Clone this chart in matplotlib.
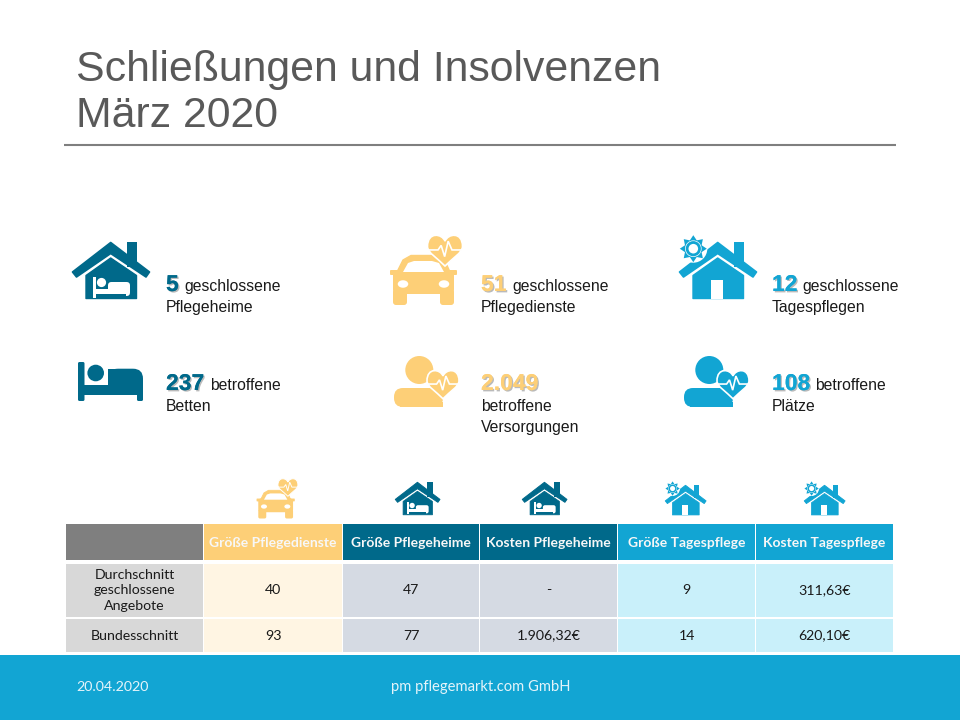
import numpy as np
import matplotlib
matplotlib.use('Agg')
import matplotlib.pyplot as plt
import matplotlib.patheffects as pe
from matplotlib.patches import Rectangle, Polygon, Circle, Ellipse, FancyBboxPatch, PathPatch
from matplotlib.path import Path
from matplotlib.transforms import Affine2D

YELLOW = '#FDCF77'
DARK = '#00698A'
BLUE = '#12A5D3'

title_lines = ['Schließungen und Insolvenzen', 'März 2020']
footer_date = '20.04.2020'
footer_name = 'pm pflegemarkt.com GmbH'

# big number, rest of first line, following lines
heim_stats = [('5', 'geschlossene', ['Pflegeheime']), ('237', 'betroffene', ['Betten'])]
dienst_stats = [('51', 'geschlossene', ['Pflegedienste']), ('2.049', '', ['betroffene', 'Versorgungen'])]
tages_stats = [('12', 'geschlossene', ['Tagespflegen']), ('108', 'betroffene', ['Plätze'])]

table_columns = ['Größe Pflegedienste', 'Größe Pflegeheime', 'Kosten Pflegeheime',
                 'Größe Tagespflege', 'Kosten Tagespflege']
row_labels = ['Durchschnitt\ngeschlossene\nAngebote', 'Bundesschnitt']
row_durchschnitt = ['40', '47', '-', '9', '311,63€']
row_bundesschnitt = ['93', '77', '1.906,32€', '14', '620,10€']


def local(ax, x0, y0, s):
    return Affine2D().scale(s).translate(x0, y0) + ax.transData


def draw_heart(ax, cx, cy, w, color, s=1.0):
    verts = [(0, -0.28), (-0.08, -0.5), (-0.5, -0.56), (-0.5, -0.13),
             (-0.5, 0.05), (-0.2, 0.22), (0, 0.43),
             (0.2, 0.22), (0.5, 0.05), (0.5, -0.13),
             (0.5, -0.56), (0.08, -0.5), (0, -0.28)]
    codes = [Path.MOVETO] + [Path.CURVE4] * 12
    tr = Affine2D().scale(w).translate(cx, cy) + ax.transData
    ax.add_patch(PathPatch(Path(verts, codes), fc=color, ec='white', lw=1.2 * s, transform=tr, zorder=4))
    pulse = [(-0.5, -0.03), (-0.2, -0.03), (-0.11, -0.16), (-0.01, 0.16), (0.09, -0.28), (0.2, -0.03), (0.5, -0.03)]
    ax.plot([cx + p[0] * w for p in pulse], [cy + p[1] * w for p in pulse],
            color='white', lw=1.2 * s, zorder=5, solid_joinstyle='miter')


def draw_roof(ax, tr, color, s):
    # roof band plus chimney, local size 78 x 57
    ax.add_patch(Rectangle((55, 0), 10, 25, fc=color, ec='none', transform=tr))
    ax.add_patch(Polygon([(0.5, 30), (38.7, 0.5), (77.5, 30), (74, 35), (38.7, 11.5), (4.5, 35)],
                         fc=color, ec=color, lw=1.2 * s, joinstyle='round', transform=tr))


def house_body(ax, tr, color, s):
    ax.add_patch(Polygon([(14, 33.5), (38.7, 16), (64.5, 33.5), (64.5, 56.5), (14, 56.5)],
                         fc=color, ec=color, lw=1.0 * s, joinstyle='round', transform=tr))


def draw_heim(ax, x0, y0, s):
    tr = local(ax, x0, y0, s)
    draw_roof(ax, tr, DARK, s)
    house_body(ax, tr, DARK, s)
    # bed cut out of the house
    ax.add_patch(Rectangle((20.7, 35), 3.4, 20.5, fc='white', ec='none', transform=tr))
    ax.add_patch(Circle((29.5, 40.5), 4.6, fc='white', ec='none', transform=tr))
    ax.add_patch(FancyBboxPatch((36, 40), 22, 14, boxstyle='round,pad=0,rounding_size=3.5', fc='white', ec='none', transform=tr))
    ax.add_patch(Rectangle((24, 47), 16, 5, fc='white', ec='none', transform=tr))
    ax.add_patch(Rectangle((24, 52), 30, 4, fc=DARK, ec='none', transform=tr))


def draw_tages(ax, x0, y0, s):
    tr = local(ax, x0, y0, s)
    draw_roof(ax, tr, BLUE, s)
    house_body(ax, tr, BLUE, s)
    ax.add_patch(Rectangle((32, 38), 11.5, 19, fc='white', ec='none', transform=tr))
    # sun in the corner of the roof
    cx, cy = 14.3, 6.7
    ax.add_patch(Circle((cx, cy), 14, fc='white', ec='none', transform=tr, zorder=3))
    ang = np.linspace(0, 2 * np.pi, 17)[:-1] - np.pi / 2
    rad = np.where(np.arange(16) % 2 == 0, 13.5, 9)
    ax.add_patch(Polygon(np.column_stack([cx + rad * np.cos(ang), cy + rad * np.sin(ang)]),
                         fc=BLUE, ec='none', transform=tr, zorder=4))
    ax.add_patch(Circle((cx, cy), 8.3, fc='white', ec='none', transform=tr, zorder=4))
    ax.add_patch(Circle((cx, cy), 6.2, fc='white', ec=BLUE, lw=2.0 * s, transform=tr, zorder=5))


def draw_car(ax, x0, y0, s):
    tr = local(ax, x0, y0, s)
    c = YELLOW
    ax.add_patch(Polygon([(8, 17), (14, 5), (22, 0.5), (46, 0.5), (56, 6), (61, 17)],
                         fc=c, ec=c, lw=1.0 * s, joinstyle='round', transform=tr))
    ax.add_patch(FancyBboxPatch((4, 15), 61, 24, boxstyle='round,pad=0,rounding_size=5', fc=c, ec='none', transform=tr))
    ax.add_patch(FancyBboxPatch((1, 15), 67, 5, boxstyle='round,pad=0,rounding_size=1', fc=c, ec='none', transform=tr))
    ax.add_patch(FancyBboxPatch((4, 34), 14, 16, boxstyle='round,pad=0,rounding_size=3', fc=c, ec='none', transform=tr))
    ax.add_patch(FancyBboxPatch((51, 34), 14, 16, boxstyle='round,pad=0,rounding_size=3', fc=c, ec='none', transform=tr))
    ax.add_patch(Polygon([(14, 17), (19, 8), (25, 6), (43, 6), (50, 8), (55, 17)], fc='white', ec='none', transform=tr))
    ax.add_patch(Ellipse((14, 29), 10.5, 7.5, fc='white', ec='none', transform=tr))
    ax.add_patch(Ellipse((55, 29), 10.5, 7.5, fc='white', ec='none', transform=tr))
    draw_heart(ax, x0 + 56 * s, y0 - 4 * s, 35 * s, c, s)


def draw_person(ax, x0, y0, s, color):
    tr = local(ax, x0, y0, s)
    ax.add_patch(Circle((25.3, 14), 14, fc=color, ec='none', transform=tr))
    ax.add_patch(FancyBboxPatch((0, 32), 49, 19, boxstyle='round,pad=0,rounding_size=9', fc=color, ec='none', transform=tr))
    ax.add_patch(Rectangle((6, 46), 43, 5, fc=color, ec='none', transform=tr))
    draw_heart(ax, x0 + 49 * s, y0 + 29 * s, 32 * s, color, s)


def draw_bed(ax, x0, y0, s):
    tr = local(ax, x0, y0, s)
    ax.add_patch(FancyBboxPatch((0, 0), 6.5, 39, boxstyle='round,pad=0,rounding_size=1.5', fc=DARK, ec='none', transform=tr))
    ax.add_patch(Circle((17.7, 11), 8.3, fc=DARK, ec='none', transform=tr))
    ax.add_patch(FancyBboxPatch((30, 6.7), 35, 26, boxstyle='round,pad=0,rounding_size=10', fc=DARK, ec='none', transform=tr))
    ax.add_patch(Rectangle((30, 6.7), 20, 26, fc=DARK, ec='none', transform=tr))
    ax.add_patch(Rectangle((6, 23.3), 59, 9.4, fc=DARK, ec='none', transform=tr))
    ax.add_patch(FancyBboxPatch((59, 30), 6, 9, boxstyle='round,pad=0,rounding_size=1.5', fc=DARK, ec='none', transform=tr))


def stat_block(ax, x, y, stat, color, second_x):
    big, rest, lines = stat
    ax.text(x, y, big, fontsize=BIG, fontweight='bold', color=color, family='Liberation Sans', va='baseline',
            path_effects=[pe.withSimplePatchShadow(offset=(1, -1), shadow_rgbFace='#666666', alpha=0.45), pe.Normal()])
    if rest:
        ax.text(second_x, y, rest, fontsize=BODY, color='#1a1a1a', family='Liberation Sans', va='baseline')
    for n, line in enumerate(lines):
        ax.text(x, y + 21 * (n + 1), line, fontsize=BODY, color='#1a1a1a', family='Liberation Sans', va='baseline')


BIG = 16.5
BODY = 11.3
fig = plt.figure(figsize=(9.6, 7.2), dpi=100)
ax = fig.add_axes([0, 0, 1, 1])
ax.set_xlim(0, 960)
ax.set_ylim(720, 0)
ax.axis('off')

# title and rule
ax.text(76, 81, title_lines[0], fontsize=30.8, color='#595959', family='Liberation Sans', va='baseline')
ax.text(76, 127, title_lines[1], fontsize=30.8, color='#595959', family='Liberation Sans', va='baseline')
ax.plot([64, 896], [145, 145], color='#7F7F7F', lw=1.5, solid_capstyle='butt')

# stat blocks
draw_heim(ax, 72, 242, 1.0)
draw_bed(ax, 78, 362, 1.0)
stat_block(ax, 166, 291, heim_stats[0], DARK, 184)
stat_block(ax, 166, 390, heim_stats[1], DARK, 210)

draw_car(ax, 389, 255, 1.0)
draw_person(ax, 394, 356, 1.0, YELLOW)
stat_block(ax, 481, 291, dienst_stats[0], YELLOW, 512)
stat_block(ax, 481, 390, dienst_stats[1], YELLOW, 0)

draw_tages(ax, 679, 242, 1.0)
draw_person(ax, 684, 356, 1.0, BLUE)
stat_block(ax, 772, 291, tages_stats[0], BLUE, 802)
stat_block(ax, 772, 390, tages_stats[1], BLUE, 815)

# small icons above the table
draw_car(ax, 256, 490, 0.57)
draw_heim(ax, 395, 482, 0.58)
draw_heim(ax, 522, 482, 0.58)
draw_tages(ax, 665, 485, 0.53)
draw_tages(ax, 804, 485, 0.53)

# table
col_x = [66, 204, 343, 480, 618, 756, 894]
head_col = ['#7F7F7F', YELLOW, DARK, DARK, BLUE, BLUE]
cell_col = ['#D8D8D8', '#FFF5E3', '#D5DAE3', '#D5DAE3', '#C9F0FA', '#C9F0FA']
rows = [[row_labels[0]] + row_durchschnitt, [row_labels[1]] + row_bundesschnitt]
row_y = [(564, 617), (619, 652)]
font = 'Lato'
for i in range(6):
    x0, x1 = col_x[i], col_x[i + 1] - 1
    ax.add_patch(Rectangle((x0, 524), x1 - x0, 36, fc=head_col[i], ec='none'))
    if i > 0:
        ax.text((x0 + x1) / 2, 543, table_columns[i - 1], fontsize=10, fontweight='bold', color='#F7F7F7',
                family=font, ha='center', va='center')
    for r, (y0, y1) in enumerate(row_y):
        ax.add_patch(Rectangle((x0, y0), x1 - x0, y1 - y0, fc=cell_col[i], ec='none'))
        ax.text((x0 + x1) / 2, (y0 + y1) / 2, rows[r][i], fontsize=10.2, color='#1a1a1a',
                family=font, ha='center', va='center', linespacing=1.35)

# footer
ax.add_patch(Rectangle((0, 655), 960, 65, fc=BLUE, ec='none'))
ax.text(76, 687, footer_date, fontsize=10.3, color='#E4F4FA', family='Lato', va='center')
ax.text(481, 687, footer_name, fontsize=10.6, color='#E4F4FA', family='Lato', ha='center', va='center')

fig.savefig('out.png', dpi=100)
